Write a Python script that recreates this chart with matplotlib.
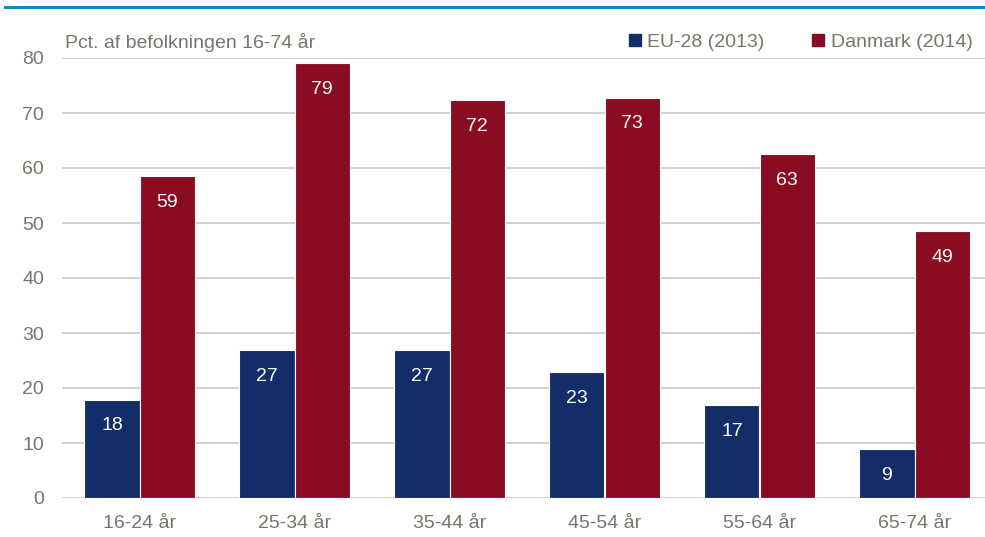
import matplotlib
matplotlib.use("Agg")
import matplotlib.pyplot as plt
import numpy as np
from matplotlib.lines import Line2D
from matplotlib.font_manager import fontManager

categories = ["16-24 år", "25-34 år", "35-44 år", "45-54 år", "55-64 år", "65-74 år"]
eu_values = [17.9, 26.9, 26.9, 22.9, 16.9, 8.9]
dk_values = [58.6, 79.1, 72.3, 72.8, 62.6, 48.6]
eu_labels = ["18", "27", "27", "23", "17", "9"]
dk_labels = ["59", "79", "72", "73", "63", "49"]
series_names = ["EU-28 (2013)", "Danmark (2014)"]
y_ticks = [0, 10, 20, 30, 40, 50, 60, 70, 80]

names = {f.name for f in fontManager.ttflist}
fam = "Liberation Sans Narrow" if "Liberation Sans Narrow" in names else "Liberation Sans"
plt.rcParams["font.family"] = [fam, "DejaVu Sans"]

BLUE = "#122d68"
RED = "#8a0c22"
GREY = "#76766a"
GRID = "#c9c9c0"

W, H = 985, 537
fig = plt.figure(figsize=(W / 100, H / 100), dpi=100)
ax = fig.add_axes([62 / W, (H - 498) / H, (985 - 62) / W, (498 - 58) / H])

x = np.arange(len(categories))
bw = 0.355
b1 = ax.bar(x - bw / 2, eu_values, bw, color=BLUE, edgecolor="white", linewidth=0.8, zorder=3)
b2 = ax.bar(x + bw / 2, dk_values, bw, color=RED, edgecolor="white", linewidth=0.8, zorder=3)

for rect, lab in zip(b1, eu_labels):
    ax.text(rect.get_x() + rect.get_width() / 2, rect.get_height() - 4.8, lab,
            ha="center", va="center", color="white", fontsize=14, zorder=4)
for rect, lab in zip(b2, dk_labels):
    ax.text(rect.get_x() + rect.get_width() / 2, rect.get_height() - 4.8, lab,
            ha="center", va="center", color="white", fontsize=14, zorder=4)

ax.set_xlim(-0.5, -0.5 + 923 / 155)
ax.set_ylim(0, 80)
ax.set_yticks(y_ticks)
ax.set_yticklabels([str(t) for t in y_ticks])
ax.set_xticks(x)
ax.set_xticklabels(categories)
ax.grid(axis="y", color=GRID, linewidth=1.2, zorder=0)
for s in ax.spines.values():
    s.set_visible(False)
ax.tick_params(axis="both", length=0, colors=GREY, labelsize=14)
ax.tick_params(axis="y", pad=13)
ax.tick_params(axis="x", pad=12)
ax.set_axisbelow(True)

# title
fig.text(65 / W, (H - 42) / H, "Pct. af befolkningen 16-74 år", color=GREY,
         fontsize=14, ha="left", va="center")

# legend
handles = [Line2D([], [], marker="s", linestyle="none", markersize=8, color=BLUE),
           Line2D([], [], marker="s", linestyle="none", markersize=8, color=RED)]
leg = fig.legend(handles, series_names, loc="center left", bbox_to_anchor=(628 / W, (H - 42) / H),
                 ncol=2, frameon=False, fontsize=14, handlelength=0.7, handletextpad=0.3,
                 columnspacing=2.4, labelcolor=GREY, borderpad=0, borderaxespad=0)

# top blue line
fig.add_artist(Line2D([5 / W, 985 / W], [(H - 7) / H, (H - 7) / H], color="#0a8ccc", linewidth=2.2))

fig.savefig("out.png", dpi=100)
